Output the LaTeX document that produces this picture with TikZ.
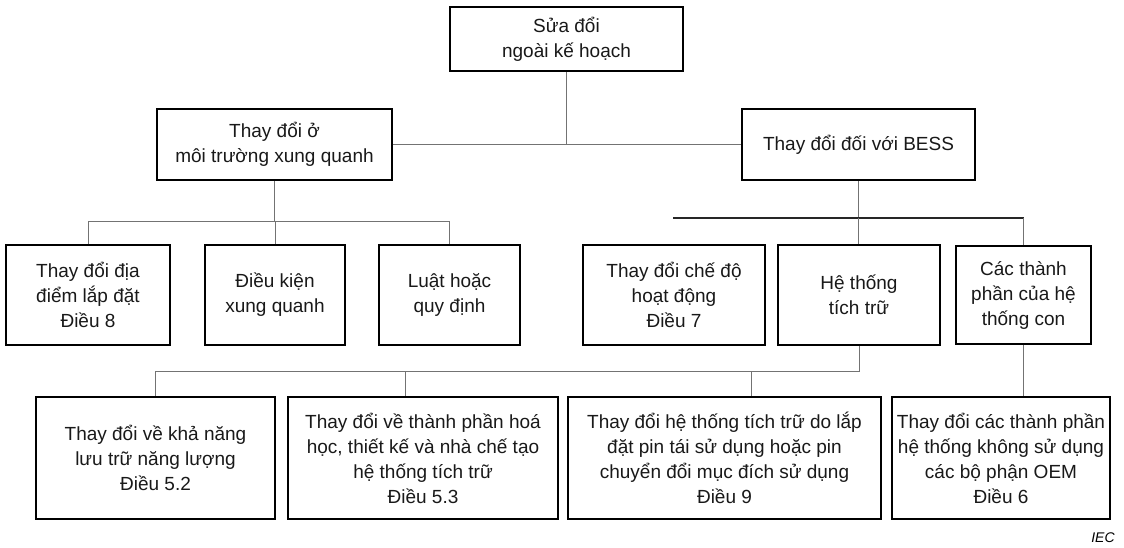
\documentclass[tikz,border=0pt]{standalone}
\usepackage{fontspec}
\setmainfont{Liberation Sans}
\begin{document}
\begin{tikzpicture}[x=1pt,y=-1pt,
  box/.style={draw=black, line width=1.8pt, align=center, inner sep=2pt,
    font=\fontsize{19}{25}\selectfont, text=black!90},
  conn/.style={draw=black!55, line width=0.8pt},
  bus/.style={draw=black!85, line width=1.3pt}]
\fill[white] (0,0) rectangle (1124,548);
\useasboundingbox (0,0) rectangle (1124,548);
% level 0
\node[box, minimum width=233pt, minimum height=64pt] (top) at (566.5,39) {Sửa đổi\\ngoài kế hoạch};
% level 1
\node[box, minimum width=235pt, minimum height=71pt] (L) at (274.5,144.5) {Thay đổi ở\\môi trường xung quanh};
\node[box, minimum width=233pt, minimum height=71pt] (R) at (858.5,144.5) {Thay đổi đối với BESS};
% level 2
\node[box, minimum width=164pt, minimum height=100pt] (A) at (88,295) {Thay đổi địa\\điểm lắp đặt\\Điều 8};
\node[box, minimum width=140pt, minimum height=100pt] (B) at (275,295) {Điều kiện\\xung quanh};
\node[box, minimum width=141pt, minimum height=100pt] (C) at (449.5,295) {Luật hoặc\\quy định};
\node[box, minimum width=182pt, minimum height=100pt] (G) at (674,295) {Thay đổi chế độ\\hoạt động\\Điều 7};
\node[box, minimum width=162pt, minimum height=100pt] (H) at (859,295) {Hệ thống\\tích trữ};
\node[box, minimum width=135pt, minimum height=98pt] (I) at (1023.5,295) {Các thành\\phần của hệ\\thống con};
% level 3
\node[box, minimum width=239pt, minimum height=122pt] (D) at (155.5,458) {Thay đổi về khả năng\\lưu trữ năng lượng\\Điều 5.2};
\node[box, minimum width=270pt, minimum height=122pt] (E) at (423,458) {Thay đổi về thành phần hoá\\học, thiết kế và nhà chế tạo\\hệ thống tích trữ\\Điều 5.3};
\node[box, minimum width=313pt, minimum height=122pt] (F) at (724.5,458) {Thay đổi hệ thống tích trữ do lắp\\đặt pin tái sử dụng hoặc pin\\chuyển đổi mục đích sử dụng\\Điều 9};
\node[box, minimum width=218pt, minimum height=122pt] (J) at (1001,458) {Thay đổi các thành phần\\hệ thống không sử dụng\\các bộ phận OEM\\Điều 6};
% IEC
\node[font=\fontsize{14}{16}\selectfont\itshape, inner sep=0pt] (iec) at (1103,538) {IEC};
% bus coordinates
\coordinate (busL) at (0,221);
\coordinate (busRl) at (673,218);
\coordinate (busB) at (0,371);
\coordinate (edrop) at (405,371);
\coordinate (fdrop) at (751,371);
% connectors
\draw[conn] (top.south) -- (top.south |- L.east);
\draw[conn] (L.east) -- (R.west);
\draw[conn] (L.south) -- (L.south |- busL);
\draw[conn] (A.north) -- (A.north |- busL) -- (C.north |- busL) -- (C.north);
\draw[conn] (B.north) -- (B.north |- busL);
\draw[conn] (R.south) -- (R.south |- busRl);
\draw[bus] (busRl) -- (I.north |- busRl);
\draw[conn] (R.south |- busRl) -- (R.south |- H.north);
\draw[conn] (I.north |- busRl) -- (I.north);
\draw[conn] (H.south) -- (H.south |- busB) -- (D.north |- busB) -- (D.north);
\draw[conn] (edrop) -- (edrop |- E.north);
\draw[conn] (fdrop) -- (fdrop |- F.north);
\draw[conn] (I.south) -- (I.south |- J.north);
\end{tikzpicture}
\end{document}
